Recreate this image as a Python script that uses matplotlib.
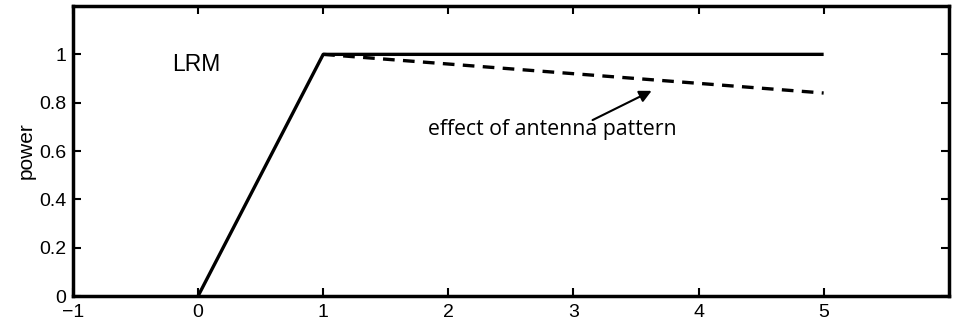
import matplotlib
matplotlib.use("Agg")
import matplotlib.pyplot as plt

plt.rcParams['font.family'] = ['Liberation Sans', 'DejaVu Sans']

solid_x = [0, 1, 5]
solid_y = [0, 1, 1]
dashed_x = [1, 2, 3, 4, 5]
dashed_y = [1.0, 0.96, 0.92, 0.88, 0.84]
xticks = [-1, 0, 1, 2, 3, 4, 5]
xtick_labels = ['\u22121', '0', '1', '2', '3', '4', '5']
yticks = [0, 0.2, 0.4, 0.6, 0.8, 1]
ytick_labels = ['0', '0.2', '0.4', '0.6', '0.8', '1']

fig = plt.figure(figsize=(9.54, 3.24), dpi=100)
ax = fig.add_axes([0.0765, 0.0864, 0.918, 0.895])
ax.plot(solid_x, solid_y, color='black', lw=2.4, solid_capstyle='butt')
ax.plot(dashed_x, dashed_y, color='black', lw=2.4, ls=(0, (3.5, 2.5)))
ax.set_xlim(-1, 6)
ax.set_ylim(0, 1.2)
ax.set_xticks(xticks)
ax.set_xticklabels(xtick_labels)
ax.set_yticks(yticks)
ax.set_yticklabels(ytick_labels)
ax.tick_params(direction='in', length=6, width=1.5, top=True, right=True,
               labelsize=14, pad=4)
ax.tick_params(axis='x', pad=6)
ax.tick_params(axis='y', pad=5)
for s in ax.spines.values():
    s.set_linewidth(2.5)
ax.set_ylabel('power', fontsize=15, labelpad=2)
ax.text(-0.21, 0.957, 'LRM', fontsize=16.5, ha='left', va='center')
ax.text(1.835, 0.69, 'effect of antenna pattern', fontsize=15.3,
        family=['Open Sans', 'DejaVu Sans'], ha='left', va='center')
ax.annotate('', xy=(3.625, 0.849), xytext=(3.153, 0.728),
            arrowprops=dict(arrowstyle='-|>', color='black', lw=1.5,
                            mutation_scale=18, shrinkA=0, shrinkB=0))
fig.savefig('out.png', dpi=100)
